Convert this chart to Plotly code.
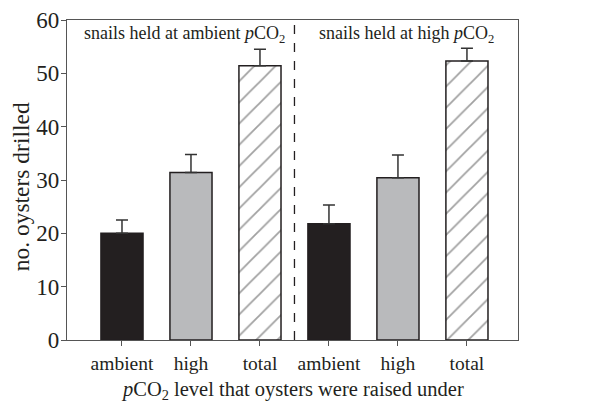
import plotly.graph_objects as go

categories = ["ambient", "high", "total", "ambient", "high", "total"]
groups = ["snails held at ambient <i>p</i>CO<sub>2</sub>", "snails held at high <i>p</i>CO<sub>2</sub>"]
means = [20.0, 31.4, 51.4, 21.8, 30.4, 52.3]
errors = [2.5, 3.4, 3.1, 3.5, 4.3, 2.4]
y_ticks = [0, 10, 20, 30, 40, 50, 60]
x_title = "<i>p</i>CO<sub>2</sub> level that oysters were raised under"
y_title = "no. oysters drilled"

fill_colors = {"ambient": "#231f20", "high": "#b9babc", "total": "#ffffff"}
patterns = {"ambient": "", "high": "", "total": "/"}

xs = list(range(len(categories)))
ink = "#231f20"

fig = go.Figure()
fig.add_trace(go.Bar(
    x=xs, y=means, width=0.61,
    marker=dict(
        color=[fill_colors[c] for c in categories],
        line=dict(color=ink, width=1.5),
        pattern=dict(shape=[patterns[c] for c in categories], fgcolor=ink,
                     bgcolor="#ffffff", size=15, solidity=0.12, fillmode="overlay"),
    ),
    error_y=dict(type="data", array=errors, arrayminus=[0] * len(errors),
                 symmetric=False, color="#333333", thickness=1.5, width=6),
    showlegend=False,
))

fig.add_shape(type="line", x0=2.5, x1=2.5, y0=0, y1=1, xref="x", yref="y domain",
              line=dict(color=ink, width=1.3, dash="dash"))

for gi, label in enumerate(groups):
    fig.add_annotation(x=gi * 3 + 0.9 + gi * 0.23, y=57.3, text=label, showarrow=False,
                       xref="x", yref="y", font=dict(size=18, color=ink))

fig.add_annotation(text=x_title, xref="paper", yref="paper", x=0.5, y=0, yshift=-50,
                   showarrow=False, xanchor="center", yanchor="middle", font=dict(size=20.5, color=ink))
fig.add_annotation(text=y_title, xref="paper", yref="paper", x=0, y=0.477, xshift=-46,
                   textangle=-90, showarrow=False, xanchor="center", yanchor="middle",
                   borderpad=0, font=dict(size=23.5, color=ink))

serif = "Liberation Serif"
fig.update_layout(
    width=595, height=394,
    margin=dict(l=59, r=85, t=12, b=62),
    plot_bgcolor="white", paper_bgcolor="white",
    font=dict(family=serif, color=ink, size=20),
    xaxis=dict(
        range=[-0.797, 5.74], tickvals=xs, ticktext=categories,
        showline=True, linecolor="#555555", linewidth=1.3, mirror=True,
        ticks="outside", ticklen=5, tickcolor="#555555",
        tickfont=dict(size=19.5), showgrid=False, zeroline=False, automargin=False,
    ),
    yaxis=dict(
        range=[0, 60], tickvals=y_ticks,
        showline=True, linecolor="#555555", linewidth=1.3, mirror=True,
        ticks="outside", ticklen=5, tickcolor="#555555", ticklabelstandoff=-3,
        tickfont=dict(size=23), showgrid=False, zeroline=False, automargin=False,
    ),
)

fig.write_html("out.html")
